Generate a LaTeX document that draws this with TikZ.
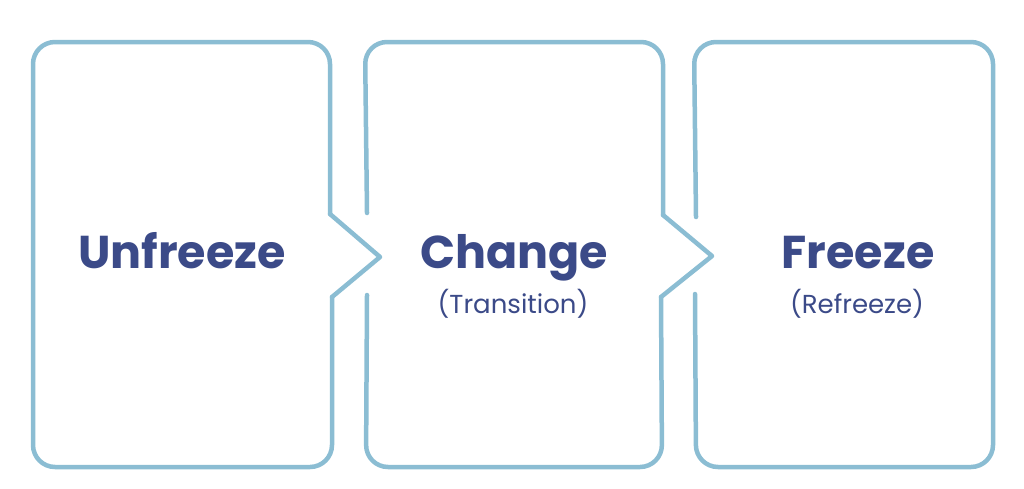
\documentclass[tikz,border=0pt]{standalone}
\usepackage{fontspec}
\setmainfont{Poppins}
\definecolor{frameblue}{HTML}{8BBDD3}
\definecolor{labelnavy}{HTML}{3B4A88}
\tikzset{
  frame/.style={draw=frameblue, line width=4.5pt, line cap=round, line join=round},
  stage/.style={text=labelnavy, font=\bfseries\fontsize{46}{50}\selectfont, inner sep=0pt, anchor=base},
  substage/.style={text=labelnavy, font=\fontsize{26}{30}\selectfont, inner sep=0pt, anchor=base}
}

\begin{document}
\begin{tikzpicture}[x=1pt, y=-1pt]
    \useasboundingbox (0,0) rectangle (1024,488);

    % Unfreeze
    \draw[frame, rounded corners=22] (330,214) -- (330,42) -- (33,42) -- (33,467) -- (332,467) -- (332,297);
    \draw[frame] (330,214) -- (380,257) -- (332,297);
    \node[stage] (unfreeze) at (182,268) {Unfreeze};

    % Change
    \draw[frame, rounded corners=22] (367,213) -- (365,42) -- (663,42) -- (663,215);
    \draw[frame, rounded corners=22] (367,295) -- (366,467) -- (662,467) -- (661,297);
    \draw[frame] (663,215) -- (712,256) -- (661,297);
    \node[stage] (change) at (514,268) {Change};
    \node[substage] (transition) at (513,313) {(Transition)};

    % Freeze
    \draw[frame, rounded corners=22] (696,217) -- (694,42) -- (993,42) -- (993,467) -- (696,467) -- (695,294);
    \node[stage] (freeze) at (858,268) {Freeze};
    \node[substage] (refreeze) at (857,313) {(Refreeze)};
\end{tikzpicture}
\end{document}
